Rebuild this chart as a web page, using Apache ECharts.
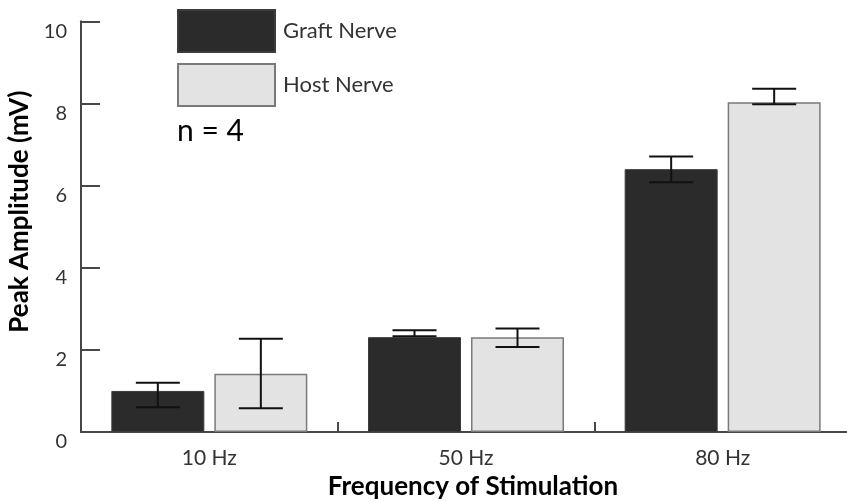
<!DOCTYPE html>
<html>
<head>
<meta charset="utf-8">
<title>Peak Amplitude by Stimulation Frequency</title>
<script src="https://cdn.jsdelivr.net/npm/echarts@6/dist/echarts.min.js"></script>
<style>
  html, body { margin: 0; padding: 0; background: #ffffff; }
  #chart { width: 847px; height: 502px; }
</style>
</head>
<body>
<div id="chart"></div>
<script>
// Stimulation frequencies on the x axis
const categories = ['10 Hz', '50 Hz', '80 Hz'];

// Mean peak amplitude (mV) for each nerve
const graftValues = [1.0, 2.31, 6.4];
const hostValues = [1.42, 2.31, 8.03];

// Lower and upper ends of the error bars (mV)
const graftLow = [0.6, 2.33, 6.08];
const graftHigh = [1.2, 2.48, 6.71];
const hostLow = [0.58, 2.07, 7.98];
const hostHigh = [2.27, 2.52, 8.36];

const yTicks = [0, 2, 4, 6, 8, 10];

const seriesNames = ['Graft Nerve', 'Host Nerve'];
const sampleNote = 'n = 4';

// Bar geometry
const BAR_W = 93;
const BAR_GAP_PX = 10;
const CAP_W = 44;

const FONT = 'Lato, "Open Sans", sans-serif';
const AXIS_COLOR = '#474747';

const errRows = [];
categories.forEach(function (c, i) {
  errRows.push([i, graftLow[i], graftHigh[i], 0]);
  errRows.push([i, hostLow[i], hostHigh[i], 1]);
});

const chart = echarts.init(document.getElementById('chart'), null, { renderer: 'canvas' });

chart.setOption({
  animation: false,
  backgroundColor: '#ffffff',
  grid: { left: 81, right: -4, top: 21.3, bottom: 70, containLabel: false, outerBoundsMode: 'none' },
  legend: {
    data: seriesNames,
    orient: 'vertical',
    left: 177,
    top: 9,
    padding: 0,
    itemWidth: 97,
    itemHeight: 42,
    itemGap: 10,
    icon: 'rect',
    selectedMode: false,
    textStyle: { fontFamily: FONT, fontSize: 22, color: '#333333', padding: [0, 0, 0, 3] }
  },
  graphic: [{
    type: 'text',
    left: 177,
    top: 116,
    style: { text: sampleNote, fontFamily: FONT, fontSize: 30, fill: '#000000' }
  }],
  xAxis: {
    type: 'category',
    data: categories,
    boundaryGap: true,
    name: 'Frequency of Stimulation',
    nameLocation: 'middle',
    nameGap: 41,
    nameTextStyle: { fontFamily: FONT, fontSize: 26, fontWeight: 'bold', color: '#000000', padding: [0, 0, 0, 14] },
    axisLine: { show: true, lineStyle: { color: AXIS_COLOR, width: 2 } },
    axisTick: { show: true, inside: true, length: 10, alignWithLabel: false, lineStyle: { color: AXIS_COLOR, width: 2 } },
    axisLabel: { fontFamily: FONT, fontSize: 21, color: '#333333', margin: 16 },
    splitLine: { show: false }
  },
  yAxis: {
    type: 'value',
    min: 0,
    max: 10,
    interval: 2,
    name: 'Peak Amplitude (mV)',
    nameLocation: 'middle',
    nameGap: 42,
    nameTextStyle: { fontFamily: FONT, fontSize: 26, fontWeight: 'bold', color: '#000000', padding: [0, 0, 0, 30] },
    axisLine: { show: true, lineStyle: { color: AXIS_COLOR, width: 2 } },
    axisTick: { show: true, inside: true, length: 19, lineStyle: { color: AXIS_COLOR, width: 2 } },
    axisLabel: {
      fontFamily: FONT, fontSize: 20, color: '#333333', margin: 14,
      verticalAlign: 'top', lineHeight: 20,
      formatter: function (v) { return yTicks.indexOf(v) >= 0 ? String(v) : ''; }
    },
    splitLine: { show: false }
  },
  series: [
    {
      name: seriesNames[0],
      type: 'bar',
      data: graftValues,
      barWidth: BAR_W,
      barGap: (BAR_GAP_PX / BAR_W * 100).toFixed(2) + '%',
      itemStyle: { color: '#2b2b2b', borderColor: '#3c3c3c', borderWidth: 1 }
    },
    {
      name: seriesNames[1],
      type: 'bar',
      data: hostValues,
      barWidth: BAR_W,
      itemStyle: { color: '#e3e3e3', borderColor: '#7a7a7a', borderWidth: 1.5 }
    },
    {
      name: 'error',
      type: 'custom',
      data: errRows,
      z: 10,
      renderItem: function (params, api) {
        const cat = api.value(0);
        const side = api.value(3) === 0 ? -1 : 1;
        const lo = api.coord([cat, api.value(1)]);
        const hi = api.coord([cat, api.value(2)]);
        const x = lo[0] + side * (BAR_W + BAR_GAP_PX) / 2;
        const style = { stroke: '#111111', lineWidth: 2, fill: null };
        return {
          type: 'group',
          children: [
            { type: 'line', shape: { x1: x, y1: lo[1], x2: x, y2: hi[1] }, style: style },
            { type: 'line', shape: { x1: x - CAP_W / 2, y1: lo[1], x2: x + CAP_W / 2, y2: lo[1] }, style: style },
            { type: 'line', shape: { x1: x - CAP_W / 2, y1: hi[1], x2: x + CAP_W / 2, y2: hi[1] }, style: style }
          ]
        };
      }
    }
  ]
});
</script>
</body>
</html>
